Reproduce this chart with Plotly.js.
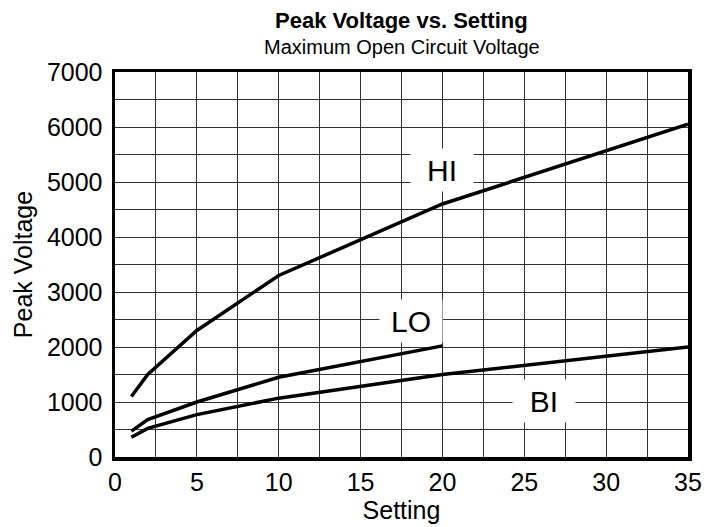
<!DOCTYPE html>
<html>
<head>
<meta charset="utf-8">
<script src="https://cdn.plot.ly/plotly-3.0.1.min.js"></script>
<style>html,body{margin:0;padding:0;background:#fff;}#chart{width:708px;height:527px;}</style>
</head>
<body>
<div id="chart"></div>
<script>
var hiX = [1, 2, 5, 10, 20, 35];
var hiY = [1100, 1500, 2300, 3300, 4600, 6050];
var loX = [1, 2, 5, 10, 20];
var loY = [470, 680, 1000, 1450, 2020];
var biX = [1, 2, 5, 10, 20, 35];
var biY = [360, 520, 770, 1070, 1500, 2000];
var xTicks = [0, 5, 10, 15, 20, 25, 30, 35];
var yTicks = [0, 1000, 2000, 3000, 4000, 5000, 6000, 7000];
var labels = [
  {text: 'HI', x: 20, y: 5220},
  {text: 'LO', x: 18.1, y: 2470},
  {text: 'BI', x: 26.2, y: 1010}
];

var FONT = 'Liberation Sans, Arial, sans-serif';
var lineStyle = {color: '#000', width: 3.5};
var traces = [
  {x: hiX, y: hiY, mode: 'lines', line: lineStyle, name: 'HI', hoverinfo: 'skip'},
  {x: loX, y: loY, mode: 'lines', line: lineStyle, name: 'LO', hoverinfo: 'skip'},
  {x: biX, y: biY, mode: 'lines', line: lineStyle, name: 'BI', hoverinfo: 'skip'}
];

var ann = labels.map(function (l) {
  return {
    x: l.x, y: l.y, xref: 'x', yref: 'y', text: l.text, showarrow: false,
    font: {family: FONT, size: 30, color: '#000'},
    bgcolor: '#fff', width: 60, height: 40, align: 'center', valign: 'middle'
  };
});
ann.push({
  xref: 'paper', yref: 'paper', x: 0.5, y: 1, yshift: 52, xanchor: 'center', yanchor: 'middle',
  text: '<b>Peak Voltage vs. Setting</b>', showarrow: false,
  font: {family: FONT, size: 22, color: '#000'}
});
ann.push({
  xref: 'paper', yref: 'paper', x: 0.5, y: 1, yshift: 25, xanchor: 'center', yanchor: 'middle',
  text: 'Maximum Open Circuit Voltage', showarrow: false,
  font: {family: FONT, size: 20, color: '#000'}
});

var layout = {
  width: 708, height: 527,
  margin: {l: 115, r: 20, t: 72, b: 70},
  paper_bgcolor: '#fff', plot_bgcolor: '#fff',
  showlegend: false,
  font: {family: FONT, size: 25, color: '#000'},
  xaxis: {
    range: [0, 35], tickvals: xTicks, ticktext: xTicks.map(String),
    tickfont: {size: 25},
    showgrid: true, gridcolor: '#333', gridwidth: 1,
    minor: {tickvals: [2.5, 7.5, 12.5, 17.5, 22.5, 27.5, 32.5], showgrid: true, gridcolor: '#333', gridwidth: 1},
    showline: true, linecolor: '#000', linewidth: 3.5, mirror: true,
    zeroline: false, ticks: '', ticklabelstandoff: 0,
    title: {text: 'Setting', font: {size: 25}, standoff: 4}
  },
  yaxis: {
    range: [0, 7000], tickvals: yTicks, ticktext: yTicks.map(String),
    tickfont: {size: 25},
    showgrid: true, gridcolor: '#333', gridwidth: 1,
    minor: {tickvals: [500, 1500, 2500, 3500, 4500, 5500, 6500], showgrid: true, gridcolor: '#333', gridwidth: 1},
    showline: true, linecolor: '#000', linewidth: 3.5, mirror: true,
    zeroline: false, ticks: '', ticklabelstandoff: 4,
    title: {text: 'Peak Voltage', font: {size: 25}, standoff: 8}
  },
  annotations: ann
};

Plotly.newPlot('chart', traces, layout, {displayModeBar: false, staticPlot: true});
</script>
</body>
</html>
